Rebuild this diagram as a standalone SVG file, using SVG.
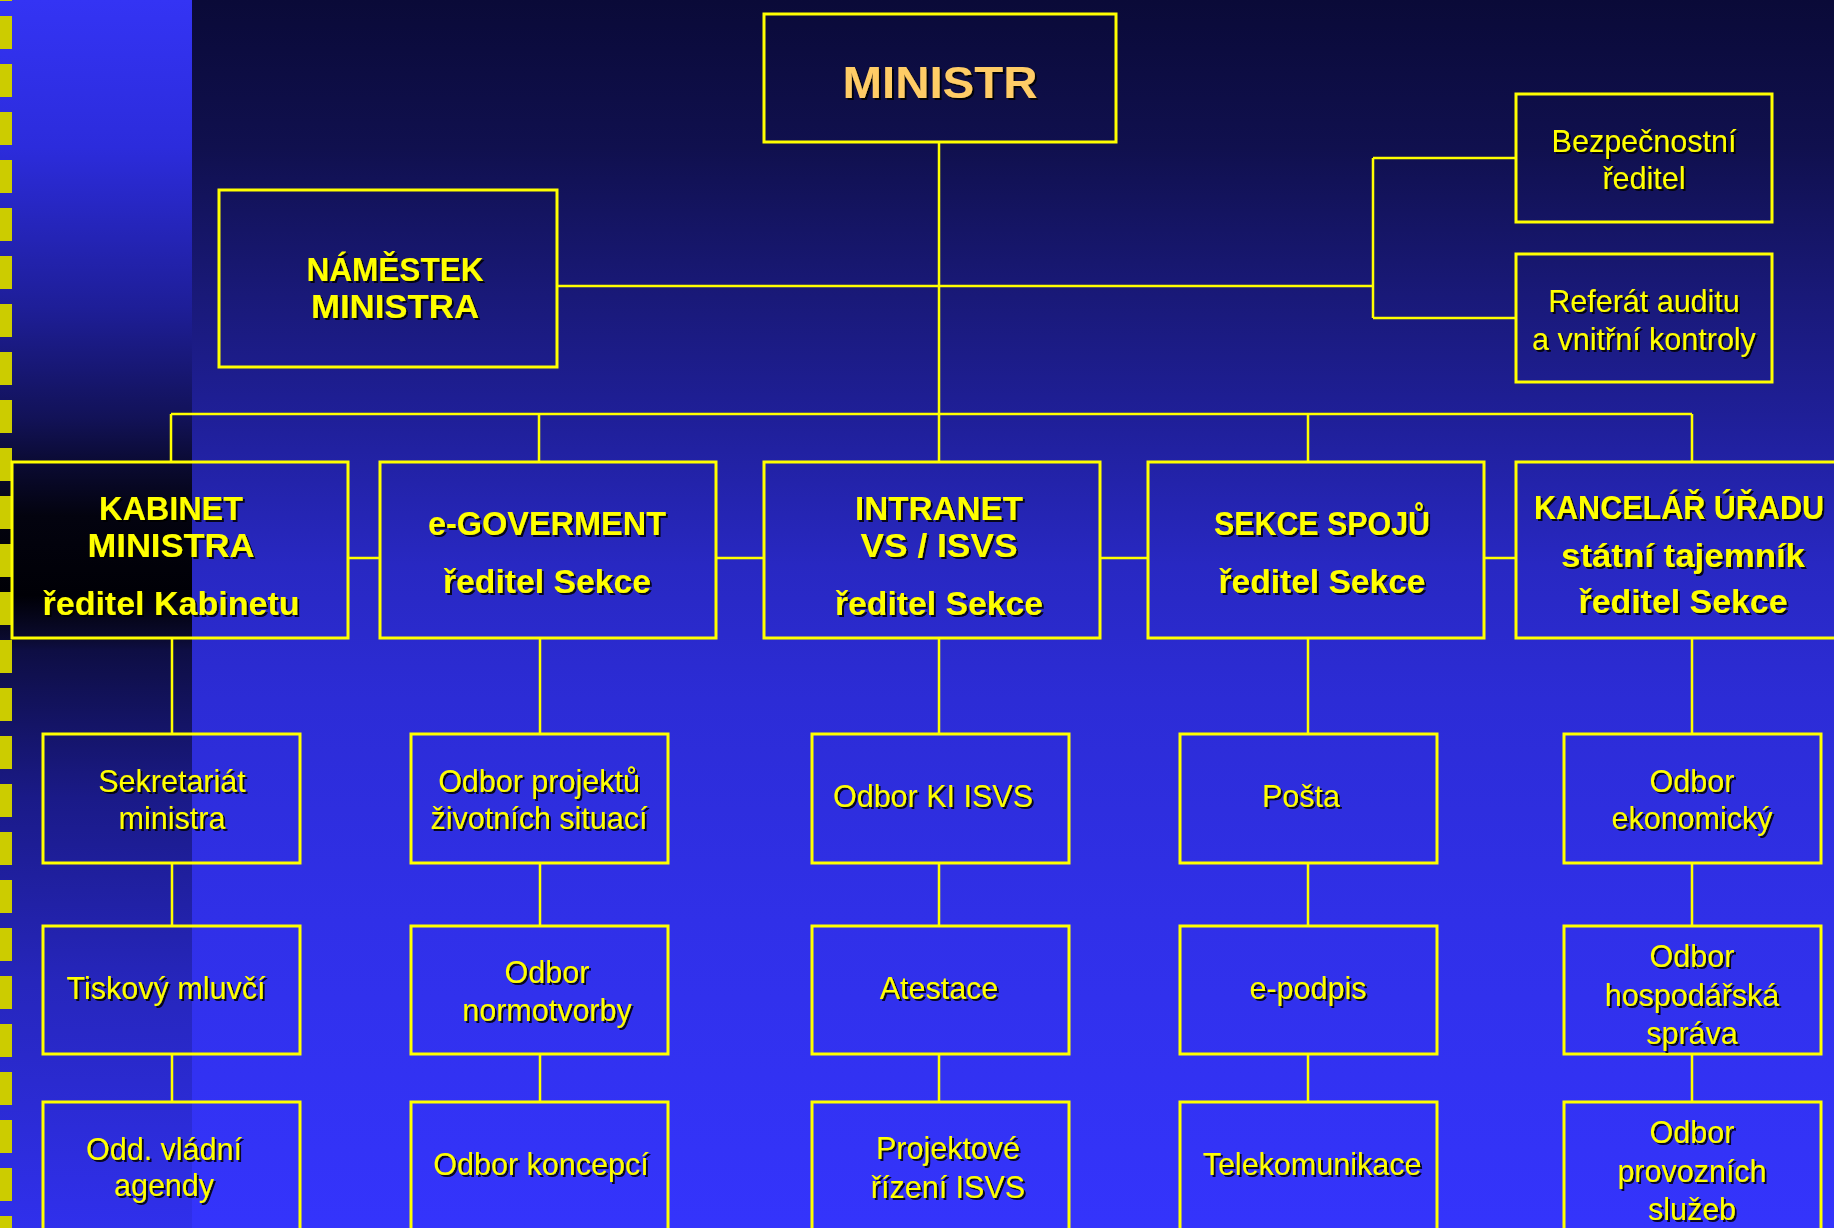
<svg xmlns="http://www.w3.org/2000/svg" width="1834" height="1228" viewBox="0 0 1834 1228">
<defs>
<linearGradient id="bgMain" x1="0" y1="0" x2="0" y2="1228" gradientUnits="userSpaceOnUse">
<stop offset="0" stop-color="#0a0a38"/>
<stop offset="0.12" stop-color="#10104e"/>
<stop offset="0.24" stop-color="#191978"/>
<stop offset="0.34" stop-color="#1f1f98"/>
<stop offset="0.46" stop-color="#2828c2"/>
<stop offset="0.57" stop-color="#2c2cd6"/>
<stop offset="0.75" stop-color="#3030e8"/>
<stop offset="1" stop-color="#3434fc"/>
</linearGradient>
<linearGradient id="bgLeft" x1="0" y1="0" x2="0" y2="1228" gradientUnits="userSpaceOnUse">
<stop offset="0" stop-color="#3434f4"/>
<stop offset="0.12" stop-color="#2c2cdc"/>
<stop offset="0.25" stop-color="#1e1e98"/>
<stop offset="0.34" stop-color="#121258"/>
<stop offset="0.38" stop-color="#0a0a30"/>
<stop offset="0.42" stop-color="#03030f"/>
<stop offset="0.485" stop-color="#000006"/>
<stop offset="0.518" stop-color="#0a0a2c"/>
<stop offset="0.53" stop-color="#0e0e44"/>
<stop offset="0.65" stop-color="#1a1a88"/>
<stop offset="0.8" stop-color="#2626bc"/>
<stop offset="1" stop-color="#3030ec"/>
</linearGradient>
<pattern id="dashes" x="0" y="16" width="12" height="48" patternUnits="userSpaceOnUse">
<rect x="0" y="0" width="12" height="33" fill="#cccc00"/>
</pattern>
<filter id="sh" x="-10%" y="-20%" width="120%" height="150%">
<feDropShadow dx="2" dy="2" stdDeviation="0.6" flood-color="#000000" flood-opacity="0.85"/>
</filter>
</defs>
<style>
.box{fill:none;stroke:#ffff00;stroke-width:3}
.ln{fill:none;stroke:#ffff00;stroke-width:2.5}
.t{font-family:"Liberation Sans",Arial,sans-serif;font-size:30.5px;fill:#ffff00;text-anchor:middle;filter:url(#sh)}
.b{font-family:"Liberation Sans",Arial,sans-serif;font-weight:bold;font-size:33px;fill:#ffff00;text-anchor:middle;filter:url(#sh)}
.m{font-family:"Liberation Sans",Arial,sans-serif;font-weight:bold;font-size:45px;fill:#ffcc66;text-anchor:middle;filter:url(#sh)}
</style>
<g id="background">
<rect x="0" y="0" width="1834" height="1228" fill="url(#bgMain)"/>
<rect x="0" y="0" width="192" height="1228" fill="url(#bgLeft)"/>
<rect x="0" y="0" width="12" height="1228" fill="url(#dashes)"/>
<rect x="0" y="0" width="12" height="1" fill="#cccc00"/>
</g>
<g id="connectors">
<path class="ln" d="M939 142V414M557 286H1373M1373 158V318M1373 158H1516M1373 318H1516"/>
<path class="ln" d="M171 414H1692M171 414V462M539 414V462M939 414V462M1308 414V462M1692 414V462"/>
<path class="ln" d="M348 558H380M716 558H764M1100 558H1148M1484 558H1516"/>
<path class="ln" d="M172 638V734M172 863V926M172 1054V1102"/>
<path class="ln" d="M540 638V734M540 863V926M540 1054V1102"/>
<path class="ln" d="M939 638V734M939 863V926M939 1054V1102"/>
<path class="ln" d="M1308 638V734M1308 863V926M1308 1054V1102"/>
<path class="ln" d="M1692 638V734M1692 863V926M1692 1054V1102"/>
</g>
<g id="ministr"><rect class="box" x="764" y="14" width="352" height="128"/><text class="m" x="940" y="98" textLength="195" lengthAdjust="spacingAndGlyphs">MINISTR</text></g>
<g id="namestek"><rect class="box" x="219" y="190" width="338" height="177"/><text class="b" x="395" y="281" textLength="177" lengthAdjust="spacingAndGlyphs">NÁMĚSTEK</text><text class="b" x="395" y="318" textLength="168" lengthAdjust="spacingAndGlyphs">MINISTRA</text></g>
<g id="bezpecnostni"><rect class="box" x="1516" y="94" width="256" height="128"/><text class="t" x="1644" y="152">Bezpečnostní</text><text class="t" x="1644" y="189">ředitel</text></g>
<g id="referat"><rect class="box" x="1516" y="254" width="256" height="128"/><text class="t" x="1644" y="312">Referát auditu</text><text class="t" x="1644" y="350">a vnitřní kontroly</text></g>
<g id="kabinet"><rect class="box" x="12" y="462" width="336" height="176"/><text class="b" x="171" y="520" textLength="144" lengthAdjust="spacingAndGlyphs">KABINET</text><text class="b" x="171" y="557" textLength="167" lengthAdjust="spacingAndGlyphs">MINISTRA</text><text class="b" x="171" y="615" textLength="257" lengthAdjust="spacingAndGlyphs">ředitel Kabinetu</text></g>
<g id="egov"><rect class="box" x="380" y="462" width="336" height="176"/><text class="b" x="547" y="535" textLength="238" lengthAdjust="spacingAndGlyphs">e-GOVERMENT</text><text class="b" x="547" y="593" textLength="208" lengthAdjust="spacingAndGlyphs">ředitel Sekce</text></g>
<g id="intranet"><rect class="box" x="764" y="462" width="336" height="176"/><text class="b" x="939" y="520" textLength="168" lengthAdjust="spacingAndGlyphs">INTRANET</text><text class="b" x="939" y="557" textLength="157" lengthAdjust="spacingAndGlyphs">VS / ISVS</text><text class="b" x="939" y="615" textLength="208" lengthAdjust="spacingAndGlyphs">ředitel Sekce</text></g>
<g id="sekce-spoju"><rect class="box" x="1148" y="462" width="336" height="176"/><text class="b" x="1322" y="535" textLength="216" lengthAdjust="spacingAndGlyphs">SEKCE SPOJŮ</text><text class="b" x="1322" y="593" textLength="207" lengthAdjust="spacingAndGlyphs">ředitel Sekce</text></g>
<g id="kancelar"><rect class="box" x="1516" y="462" width="336" height="176"/><text class="b" x="1679" y="519" textLength="290" lengthAdjust="spacingAndGlyphs">KANCELÁŘ ÚŘADU</text><text class="b" x="1683" y="567" textLength="244" lengthAdjust="spacingAndGlyphs">státní tajemník</text><text class="b" x="1683" y="613" textLength="209" lengthAdjust="spacingAndGlyphs">ředitel Sekce</text></g>
<g id="sekretariat"><rect class="box" x="43" y="734" width="257" height="129"/><text class="t" x="172" y="792">Sekretariát</text><text class="t" x="172" y="829">ministra</text></g>
<g id="tiskovy"><rect class="box" x="43" y="926" width="257" height="128"/><text class="t" x="166" y="999">Tiskový mluvčí</text></g>
<g id="odd-vladni"><rect class="box" x="43" y="1102" width="257" height="150"/><text class="t" x="164" y="1160">Odd. vládní</text><text class="t" x="164" y="1196">agendy</text></g>
<g id="odbor-projektu"><rect class="box" x="411" y="734" width="257" height="129"/><text class="t" x="539" y="792">Odbor projektů</text><text class="t" x="539" y="829">životních situací</text></g>
<g id="odbor-normotvorby"><rect class="box" x="411" y="926" width="257" height="128"/><text class="t" x="547" y="983">Odbor</text><text class="t" x="547" y="1021">normotvorby</text></g>
<g id="odbor-koncepci"><rect class="box" x="411" y="1102" width="257" height="150"/><text class="t" x="541" y="1175">Odbor koncepcí</text></g>
<g id="odbor-ki-isvs"><rect class="box" x="812" y="734" width="257" height="129"/><text class="t" x="933" y="807">Odbor KI ISVS</text></g>
<g id="atestace"><rect class="box" x="812" y="926" width="257" height="128"/><text class="t" x="939" y="999">Atestace</text></g>
<g id="projektove-rizeni"><rect class="box" x="812" y="1102" width="257" height="150"/><text class="t" x="948" y="1159">Projektové</text><text class="t" x="948" y="1198">řízení ISVS</text></g>
<g id="posta"><rect class="box" x="1180" y="734" width="257" height="129"/><text class="t" x="1301" y="807">Pošta</text></g>
<g id="e-podpis"><rect class="box" x="1180" y="926" width="257" height="128"/><text class="t" x="1308" y="999">e-podpis</text></g>
<g id="telekomunikace"><rect class="box" x="1180" y="1102" width="257" height="150"/><text class="t" x="1312" y="1175">Telekomunikace</text></g>
<g id="odbor-ekonomicky"><rect class="box" x="1564" y="734" width="257" height="129"/><text class="t" x="1692" y="792">Odbor</text><text class="t" x="1692" y="829">ekonomický</text></g>
<g id="odbor-hospodarska"><rect class="box" x="1564" y="926" width="257" height="128"/><text class="t" x="1692" y="967">Odbor</text><text class="t" x="1692" y="1006">hospodářská</text><text class="t" x="1692" y="1044">správa</text></g>
<g id="odbor-provoznich"><rect class="box" x="1564" y="1102" width="257" height="150"/><text class="t" x="1692" y="1143">Odbor</text><text class="t" x="1692" y="1182">provozních</text><text class="t" x="1692" y="1220">služeb</text></g>
</svg>
